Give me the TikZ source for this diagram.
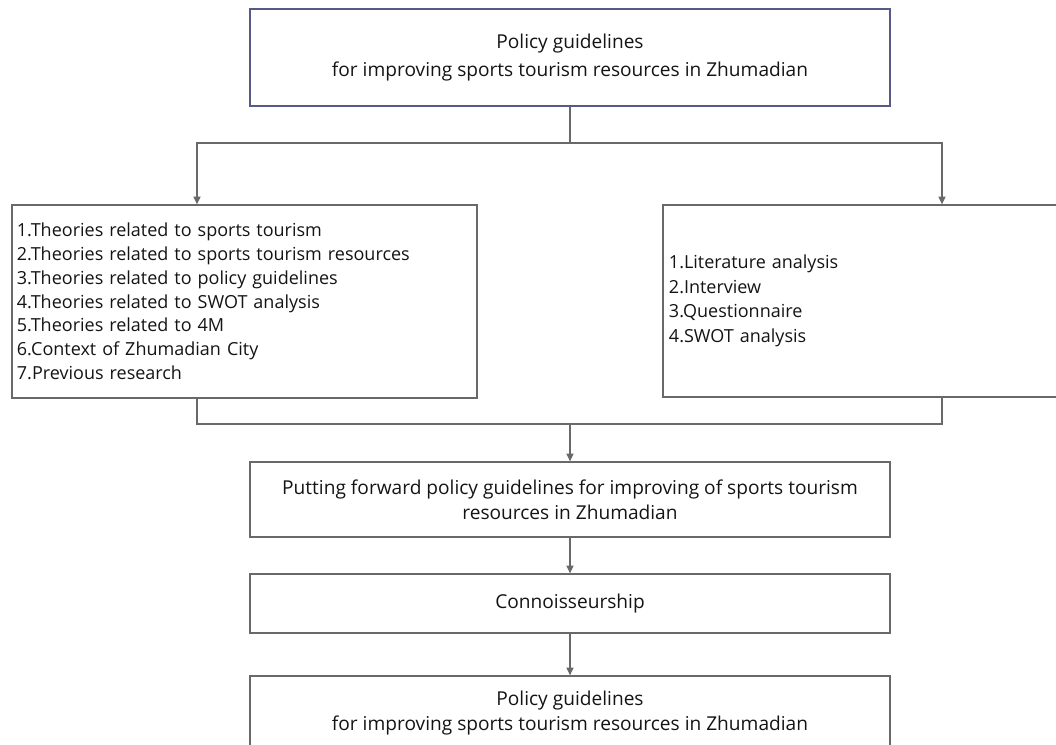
\documentclass[tikz,border=0pt]{standalone}
\usepackage{fontspec}
\setmainfont{Open Sans}
\usetikzlibrary{arrows.meta,calc}
\definecolor{trait}{RGB}{105,105,105}
\definecolor{traithaut}{RGB}{85,90,135}
\definecolor{texte}{RGB}{20,20,20}
\begin{document}
\begin{tikzpicture}[x=0.025cm,y=-0.025cm]
\tikzset{boite/.style={draw=trait, line width=0.9pt, rectangle, text=texte, font=\fontsize{13.6pt}{18pt}\selectfont, inner sep=0pt},
liste/.style={boite, align=left, font=\fontsize{12.8pt}{17.5pt}\selectfont},
fleche/.style={draw=trait, line width=0.9pt, -{Triangle[length=5.5pt,width=5pt]}}}
\useasboundingbox (0,0) rectangle (1056,744);
\clip (0,0) rectangle (1056,744);
\node[boite, draw=traithaut, align=center, minimum width=16cm, minimum height=2.425cm] (haut) at (570,57.5) {Policy guidelines\\[1.5pt]for improving sports tourism resources in Zhumadian};
\node[liste, text width=11.375cm, inner xsep=0.125cm, minimum height=4.825cm] (theo) at (244.5,301.5) {1.Theories related to sports tourism\\[-0.6pt]2.Theories related to sports tourism resources\\[-0.6pt]3.Theories related to policy guidelines\\[-0.6pt]4.Theories related to SWOT analysis\\[-0.6pt]5.Theories related to 4M\\[-0.6pt]6.Context of Zhumadian City\\[-0.6pt]7.Previous research};
\node[liste, text width=9.875cm, inner xsep=0.15cm, minimum height=4.8cm] (meth) at (866.5,301) {1.Literature analysis\\2.Interview\\3.Questionnaire\\4.SWOT analysis};
\node[boite, align=center, minimum width=16cm, minimum height=1.875cm] (prop) at (570,499.5) {Putting forward policy guidelines for improving of sports tourism\\resources in Zhumadian};
\node[boite, minimum width=16cm, minimum height=1.475cm] (conn) at (570,603.5) {Connoisseurship};
\node[boite, align=center, minimum width=16cm, minimum height=1.85cm] (bas) at (570,713) {Policy guidelines\\for improving sports tourism resources in Zhumadian};
\coordinate (sa) at (197,143);
\coordinate (sb) at (942,143);
\coordinate (ra) at (197,424);
\coordinate (rb) at (942,424);
\draw[fleche] (haut.south) |- (sa) -- (sa |- theo.north);
\draw[fleche] (haut.south) |- (sb) -- (sb |- meth.north);
\draw[draw=trait, line width=0.9pt] (ra |- theo.south) -- (ra) -- (rb) -- (rb |- meth.south);
\draw[fleche] (prop.north |- ra) -- (prop.north);
\draw[fleche] (prop) -- (conn);
\draw[fleche] (conn) -- (bas);
\end{tikzpicture}
\end{document}
